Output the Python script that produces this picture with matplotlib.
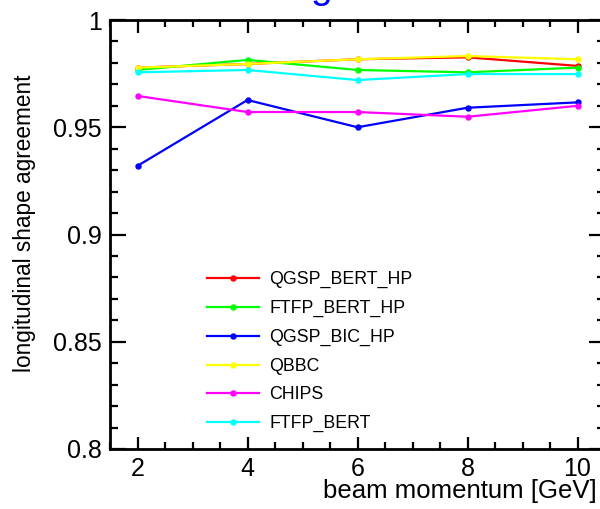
import matplotlib
matplotlib.use('Agg')
import matplotlib.pyplot as plt
from matplotlib.ticker import MultipleLocator

plt.rcParams['font.family'] = ['Liberation Sans', 'DejaVu Sans']

momentum = [2, 4, 6, 8, 10]
qgsp_bert_hp = [0.9778, 0.9795, 0.9817, 0.9826, 0.9786]
ftfp_bert_hp = [0.9767, 0.9814, 0.9767, 0.9756, 0.9778]
qgsp_bic_hp = [0.9320, 0.9627, 0.9500, 0.9591, 0.9616]
qbbc = [0.9778, 0.9795, 0.9817, 0.9832, 0.9817]
chips = [0.9646, 0.9571, 0.9571, 0.9549, 0.9600]
ftfp_bert = [0.9756, 0.9767, 0.9720, 0.9748, 0.9748]

series = [
    ('QGSP_BERT_HP', qgsp_bert_hp, '#ff0000'),
    ('FTFP_BERT_HP', ftfp_bert_hp, '#00ff00'),
    ('QGSP_BIC_HP', qgsp_bic_hp, '#0000ff'),
    ('QBBC', qbbc, '#ffff00'),
    ('CHIPS', chips, '#ff00ff'),
    ('FTFP_BERT', ftfp_bert, '#00ffff'),
]

W, H = 600, 509
fig = plt.figure(figsize=(W / 100, H / 100), dpi=100)
ax = fig.add_axes([110 / W, 60 / H, 495 / W, 429 / H])

for name, vals, col in series:
    ax.plot(momentum, vals, color=col, lw=1.6, marker='o', ms=3.6, label=name)

ax.set_xlim(1.5, 10.5)
ax.set_ylim(0.8, 1.0)
ax.xaxis.set_major_locator(MultipleLocator(2))
ax.xaxis.set_minor_locator(MultipleLocator(0.5))
ax.yaxis.set_minor_locator(MultipleLocator(0.01))
ax.set_yticks([0.8, 0.85, 0.9, 0.95, 1.0])
ax.set_yticklabels(['0.8', '0.85', '0.9', '0.95', '1'])

ax.tick_params(which='both', direction='in', top=True, right=True,
               width=1.6, labelsize=18)
ax.tick_params(axis='x', which='major', length=9, pad=6)
ax.tick_params(axis='x', which='minor', length=5)
ax.tick_params(axis='y', which='major', length=11.5, pad=6)
ax.tick_params(axis='y', which='minor', length=6)
for s in ax.spines.values():
    s.set_linewidth(2)

ax.set_ylabel('longitudinal shape agreement', fontsize=16.3)
ax.yaxis.set_label_coords(-0.15, 0.525)
ax.set_xlabel('beam momentum [GeV]', fontsize=18.5, ha='right')
ax.xaxis.set_label_coords(487 / 495, -0.07)

ax.legend(loc='upper left', bbox_to_anchor=(207 / W, 1 - 271 / H),
          bbox_transform=fig.transFigure, frameon=False, fontsize=12.8,
          handlelength=2.9, handletextpad=0.6, labelspacing=0.66,
          borderpad=0, borderaxespad=0)

# cut-off title, only the tail of the "g" is inside the picture
fig.text(321 / W, 1.003, 'g', color='#0000ff', fontsize=28,
         ha='center', va='baseline')

fig.savefig('out.png', dpi=100)
